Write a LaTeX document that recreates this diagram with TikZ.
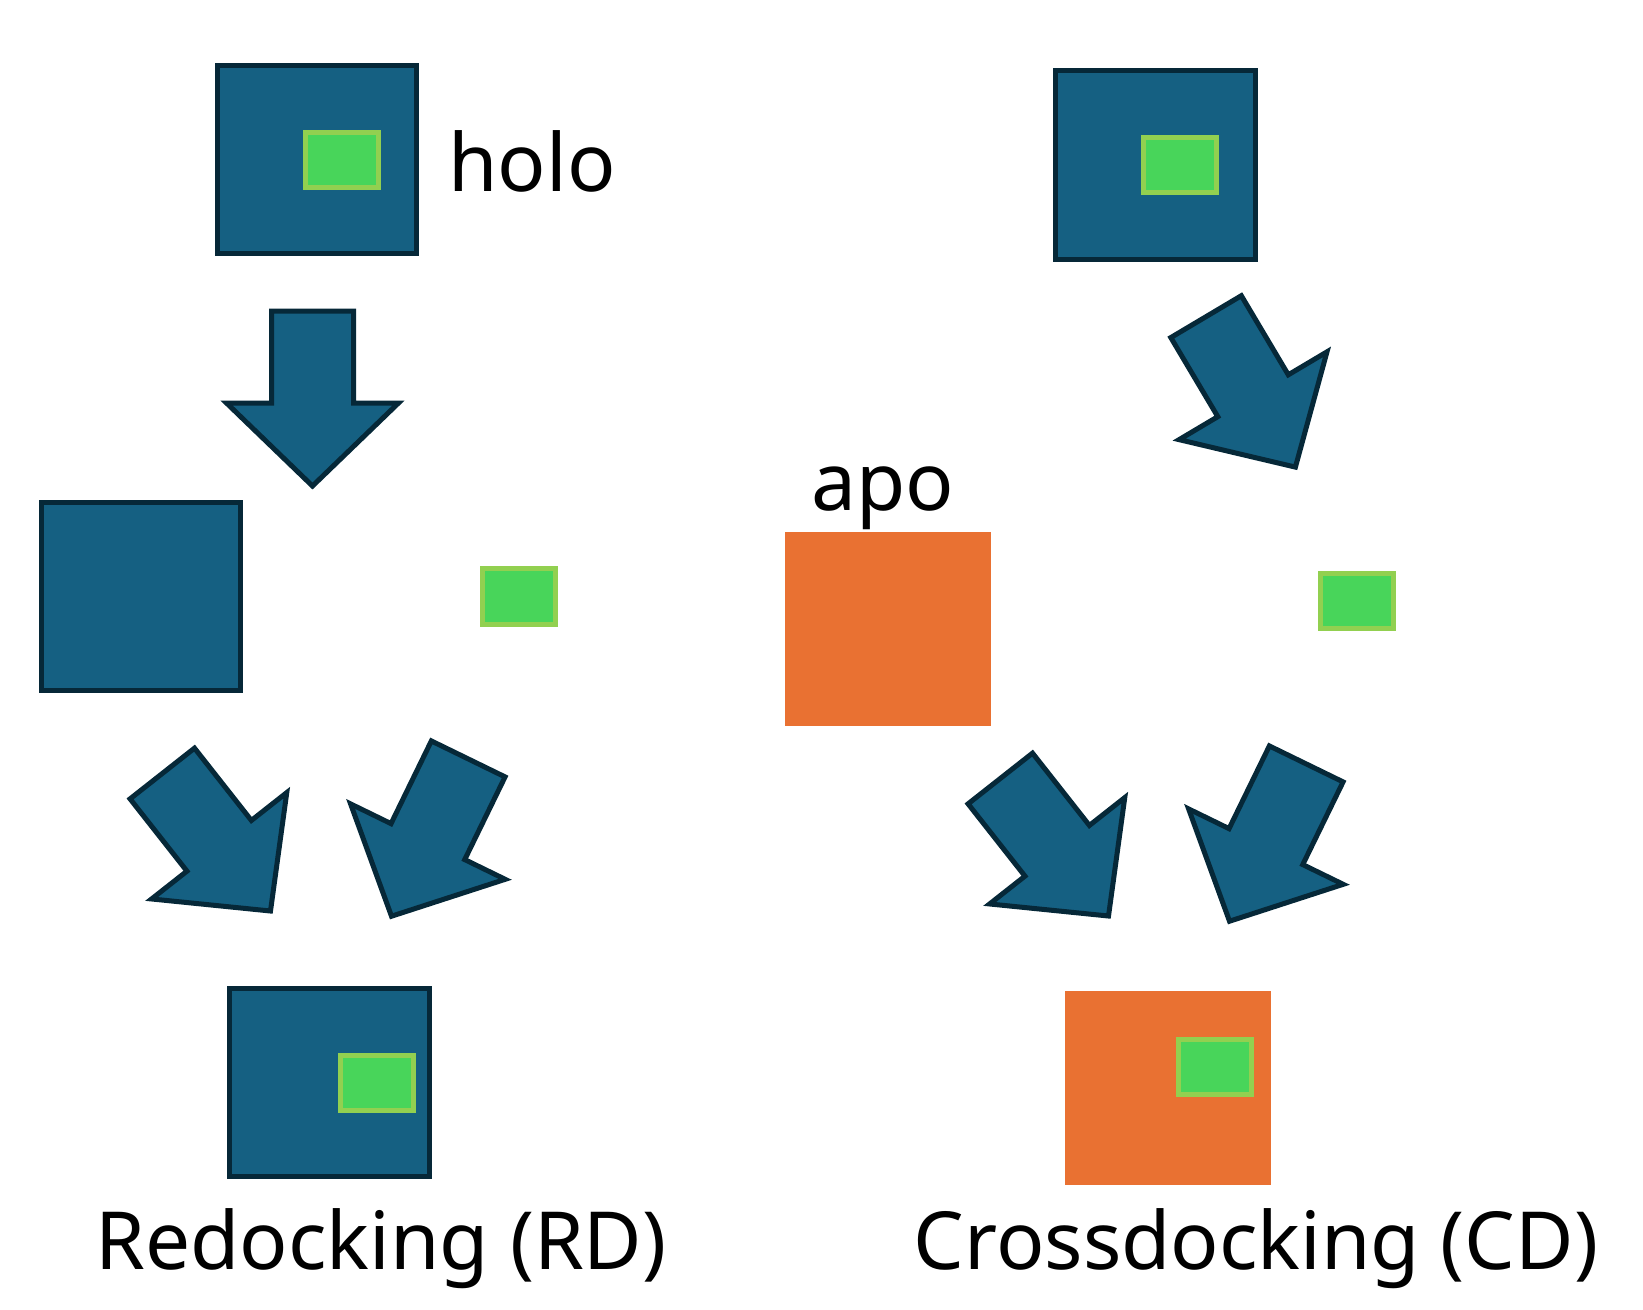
\documentclass[tikz,border=0pt]{standalone}
\usepackage{fontspec}
\setmainfont{Noto Sans}
\definecolor{dockblue}{HTML}{156082}
\definecolor{edgeblue}{HTML}{062838}
\definecolor{liggreen}{HTML}{48D55A}
\definecolor{ligedge}{HTML}{92D050}
\definecolor{apoorange}{HTML}{E97132}
\begin{document}
\begin{tikzpicture}[
    x=0.01cm, y=-0.01cm,
    bluebox/.style={rectangle, draw=edgeblue, fill=dockblue, line width=0.05cm, minimum width=1.99cm, minimum height=1.88cm, inner sep=0, outer sep=0},
    orangebox/.style={rectangle, fill=apoorange, minimum width=2.06cm, minimum height=1.94cm, inner sep=0, outer sep=0},
    ligand/.style={rectangle, draw=ligedge, fill=liggreen, line width=0.05cm, minimum width=0.73cm, minimum height=0.55cm, inner sep=0, outer sep=0},
    txt/.style={font=\fontsize{22.8}{27}\selectfont, inner sep=0, anchor=base},
    arrowshape/.style={draw=edgeblue, fill=dockblue, line width=0.05cm},
    dockarrow/.pic={\draw[arrowshape] (-41,-175) -- (41,-175) -- (41,-83) -- (86,-83) -- (0,0) -- (-86,-83) -- (-41,-83) -- cycle;}
]
    \useasboundingbox (0,0) rectangle (1643,1309);

    % Redocking
    \node[bluebox] (holoRD) at (317,159.3) {};
    \node[ligand] (hololigRD) at (341.6,160) {};
    \node[txt] (holo) at (532,191.5) {holo};
    \pic at (312.5,486) {dockarrow};
    \node[bluebox] (recRD) at (141,596.2) {};
    \node[ligand] (ligRD) at (518.7,596.5) {};
    \pic[rotate=38.2] at (270.5,911) {dockarrow};
    \pic[rotate=-26] at (391.5,916.2) {dockarrow};
    \node[bluebox] (dockRD) at (329.5,1082.6) {};
    \node[ligand] (dockligRD) at (377.2,1083.4) {};
    \node[txt] (RD) at (381,1269) {Redocking (RD)};

    % Crossdocking
    \node[bluebox] (holoCD) at (1155.5,165) {};
    \node[ligand] (hololigCD) at (1180,165) {};
    \pic[rotate=30.7] at (1295.4,467.1) {dockarrow};
    \node[txt] (apo) at (883,510) {apo};
    \node[orangebox] (apoCD) at (888,629.2) {};
    \node[ligand] (ligCD) at (1357.4,600.9) {};
    \pic[rotate=38.2] at (1108.5,916) {dockarrow};
    \pic[rotate=-26] at (1229.5,921.2) {dockarrow};
    \node[orangebox] (dockCD) at (1168,1088.3) {};
    \node[ligand] (dockligCD) at (1215,1067) {};
    \node[txt] (CD) at (1256,1269) {Crossdocking (CD)};
\end{tikzpicture}
\end{document}
